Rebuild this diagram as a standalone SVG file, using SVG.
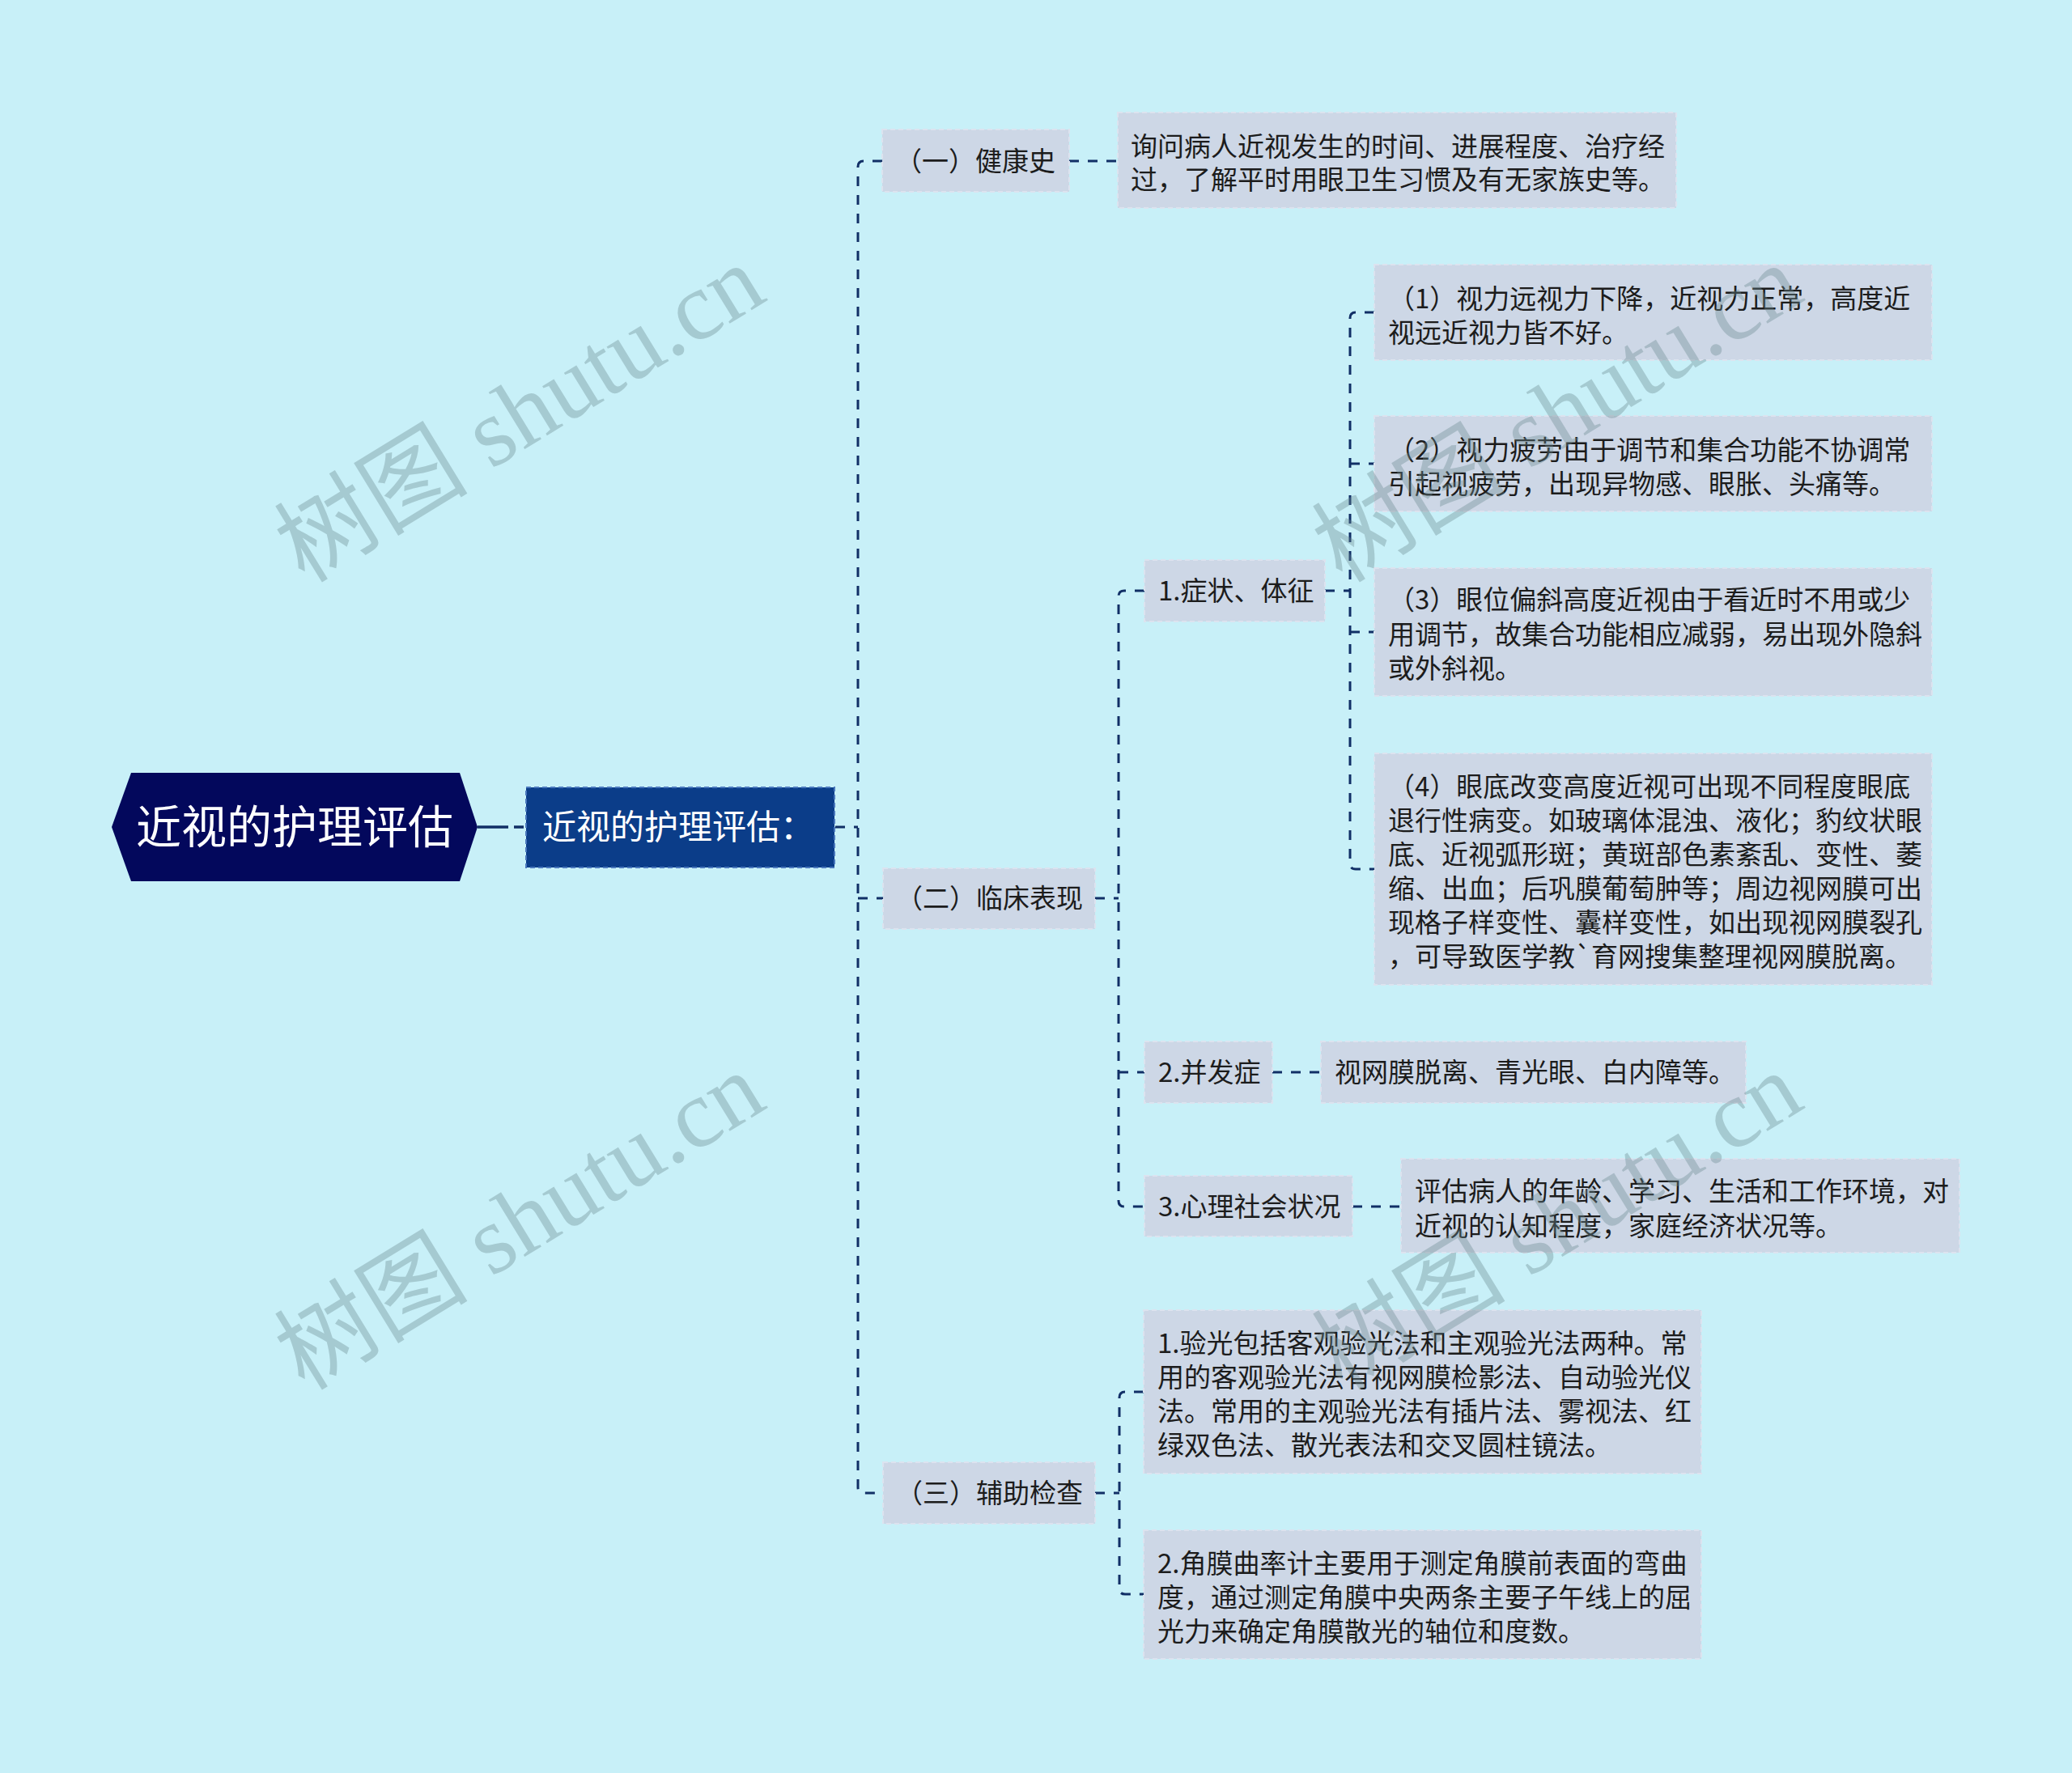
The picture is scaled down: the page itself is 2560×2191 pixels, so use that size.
<svg xmlns="http://www.w3.org/2000/svg" width="2560" height="2191" viewBox="0 0 2560 2191">
<style>
.t{font-family:"Noto Sans CJK SC","Noto Sans",sans-serif;font-size:33px;fill:#1c1c1c}
.box{fill:#cdd7e6;stroke:#dce3ef;stroke-width:2;stroke-dasharray:6 4}
.c{fill:none;stroke:#112f66;stroke-width:3;stroke-dasharray:12 11}
.wm{font-family:"Liberation Serif","Noto Sans CJK SC",serif;font-size:120px;fill:#6b8a90;opacity:.37;text-anchor:middle}
</style>
<rect x="0" y="0" width="2560" height="2191" fill="#c8f0f8"/>
<g id="connectors">
<path d="M590,1022 H650" fill="none" stroke="#112f66" stroke-width="3.5" stroke-dasharray="38 7 12 7"/>
<path class="c" d="M1032,1022 H1060"/>
<path class="c" d="M1090,199 H1067 Q1060,199 1060,206 V1838 Q1060,1845 1067,1845 H1091"/>
<path class="c" d="M1060,1110 H1091"/>
<path class="c" d="M1321,199 H1381"/>
<path class="c" d="M1353,1110 H1382"/>
<path class="c" d="M1414,730 H1389 Q1382,730 1382,737 V1484 Q1382,1491 1389,1491 H1414"/>
<path class="c" d="M1382,1325 H1414"/>
<path class="c" d="M1637,730 H1668"/>
<path class="c" d="M1698,386 H1675 Q1668,386 1668,393 V1067 Q1668,1074 1675,1074 H1698"/>
<path class="c" d="M1668,573 H1698"/>
<path class="c" d="M1668,781 H1698"/>
<path class="c" d="M1572,1325 H1632"/>
<path class="c" d="M1671,1491 H1731"/>
<path class="c" d="M1353,1845 H1383"/>
<path class="c" d="M1413,1720 H1390 Q1383,1720 1383,1727 V1963 Q1383,1970 1390,1970 H1413"/>
</g>
<g id="root">
<polygon points="138,1022 162,955 568,955 590,1022 568,1089 162,1089" fill="#03085c"/>
<text x="364" y="1042" text-anchor="middle" style="font-family:'Noto Sans CJK SC',sans-serif;font-size:56px;fill:#ffffff">近视的护理评估</text>
</g>
<g id="n-main">
<rect x="650" y="973" width="381" height="99" fill="#0b3d89" stroke="#4a78bd" stroke-width="2" stroke-dasharray="6 4"/>
<text x="670" y="1037" style="font-family:'Noto Sans CJK SC',sans-serif;font-size:42px;fill:#ffffff">近视的护理评估：</text>
</g>
<g id="n-history">
<rect class="box" x="1090" y="160" width="231" height="77"/>
<text class="t" x="1106" y="211">（一）健康史</text>
</g>
<g id="n-history-desc">
<rect class="box" x="1381" y="139" width="690" height="118"/>
<text class="t" x="1397" y="193">询问病人近视发生的时间、进展程度、治疗经</text>
<text class="t" x="1397" y="234">过，了解平时用眼卫生习惯及有无家族史等。</text>
</g>
<g id="n-clinical">
<rect class="box" x="1091" y="1073" width="262" height="75"/>
<text class="t" x="1107" y="1122">（二）临床表现</text>
</g>
<g id="n-symptom">
<rect class="box" x="1414" y="692" width="223" height="76"/>
<text class="t" x="1431" y="742">1.症状、体征</text>
</g>
<g id="n-s1">
<rect class="box" x="1698" y="327" width="689" height="118"/>
<text class="t" x="1715" y="381">（1）视力远视力下降，近视力正常，高度近</text>
<text class="t" x="1715" y="423">视远近视力皆不好。</text>
</g>
<g id="n-s2">
<rect class="box" x="1698" y="514" width="689" height="118"/>
<text class="t" x="1715" y="568">（2）视力疲劳由于调节和集合功能不协调常</text>
<text class="t" x="1715" y="610">引起视疲劳，出现异物感、眼胀、头痛等。</text>
</g>
<g id="n-s3">
<rect class="box" x="1698" y="702" width="689" height="158"/>
<text class="t" x="1715" y="753">（3）眼位偏斜高度近视由于看近时不用或少</text>
<text class="t" x="1715" y="796">用调节，故集合功能相应减弱，易出现外隐斜</text>
<text class="t" x="1715" y="838">或外斜视。</text>
</g>
<g id="n-s4">
<rect class="box" x="1698" y="931" width="689" height="286"/>
<text class="t" x="1715" y="984">（4）眼底改变高度近视可出现不同程度眼底</text>
<text class="t" x="1715" y="1026">退行性病变。如玻璃体混浊、液化；豹纹状眼</text>
<text class="t" x="1715" y="1068">底、近视弧形斑；黄斑部色素紊乱、变性、萎</text>
<text class="t" x="1715" y="1110">缩、出血；后巩膜葡萄肿等；周边视网膜可出</text>
<text class="t" x="1715" y="1152">现格子样变性、囊样变性，如出现视网膜裂孔</text>
<text class="t" x="1715" y="1194">，可导致医学教`育网搜集整理视网膜脱离。</text>
</g>
<g id="n-complication">
<rect class="box" x="1414" y="1287" width="158" height="76"/>
<text class="t" x="1431" y="1337">2.并发症</text>
</g>
<g id="n-complication-desc">
<rect class="box" x="1632" y="1287" width="525" height="76"/>
<text class="t" x="1649" y="1337">视网膜脱离、青光眼、白内障等。</text>
</g>
<g id="n-psych">
<rect class="box" x="1414" y="1453" width="257" height="75"/>
<text class="t" x="1431" y="1503">3.心理社会状况</text>
</g>
<g id="n-psych-desc">
<rect class="box" x="1731" y="1432" width="690" height="116"/>
<text class="t" x="1748" y="1484">评估病人的年龄、学习、生活和工作环境，对</text>
<text class="t" x="1748" y="1527">近视的认知程度，家庭经济状况等。</text>
</g>
<g id="n-aux">
<rect class="box" x="1091" y="1807" width="262" height="76"/>
<text class="t" x="1107" y="1857">（三）辅助检查</text>
</g>
<g id="n-aux1">
<rect class="box" x="1413" y="1619" width="689" height="202"/>
<text class="t" x="1430" y="1672">1.验光包括客观验光法和主观验光法两种。常</text>
<text class="t" x="1430" y="1714">用的客观验光法有视网膜检影法、自动验光仪</text>
<text class="t" x="1430" y="1756">法。常用的主观验光法有插片法、雾视法、红</text>
<text class="t" x="1430" y="1798">绿双色法、散光表法和交叉圆柱镜法。</text>
</g>
<g id="n-aux2">
<rect class="box" x="1413" y="1891" width="689" height="159"/>
<text class="t" x="1430" y="1944">2.角膜曲率计主要用于测定角膜前表面的弯曲</text>
<text class="t" x="1430" y="1986">度，通过测定角膜中央两条主要子午线上的屈</text>
<text class="t" x="1430" y="2028">光力来确定角膜散光的轴位和度数。</text>
</g>
<g id="watermarks">
<text class="wm" transform="translate(645,516) rotate(-31.5)" x="0" y="35">树图 shutu.cn</text>
<text class="wm" transform="translate(645,1514) rotate(-31.5)" x="0" y="35">树图 shutu.cn</text>
<text class="wm" transform="translate(1927,516) rotate(-31.5)" x="0" y="35">树图 shutu.cn</text>
<text class="wm" transform="translate(1927,1514) rotate(-31.5)" x="0" y="35">树图 shutu.cn</text>
</g>
</svg>
